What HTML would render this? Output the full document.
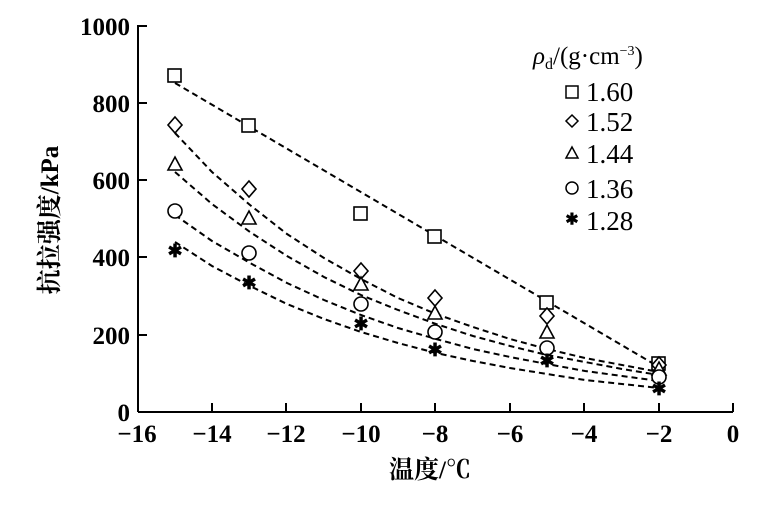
<!DOCTYPE html>
<html><head><meta charset="utf-8"><style>body{margin:0;background:#fff}svg{display:block}</style></head><body>
<svg width="768" height="505" viewBox="0 0 768 505" xmlns="http://www.w3.org/2000/svg" font-family="'Liberation Serif','Noto Serif CJK SC',serif">
<g stroke="#000" stroke-width="2" fill="none">
<line x1="138" y1="412" x2="733" y2="412"/>
<line x1="138" y1="25" x2="138" y2="412"/>
<line x1="138" y1="26" x2="147" y2="26"/>
<line x1="138" y1="103" x2="147" y2="103"/>
<line x1="138" y1="180" x2="147" y2="180"/>
<line x1="138" y1="257" x2="147" y2="257"/>
<line x1="138" y1="335" x2="147" y2="335"/>
<line x1="212" y1="412" x2="212" y2="403"/>
<line x1="286" y1="412" x2="286" y2="403"/>
<line x1="361" y1="412" x2="361" y2="403"/>
<line x1="435" y1="412" x2="435" y2="403"/>
<line x1="510" y1="412" x2="510" y2="403"/>
<line x1="584" y1="412" x2="584" y2="403"/>
<line x1="659" y1="412" x2="659" y2="403"/>
<line x1="733" y1="412" x2="733" y2="403"/>
</g>
<g font-size="25" font-weight="bold" text-anchor="end">
<text x="130" y="35">1000</text><text x="130" y="112">800</text><text x="130" y="189">600</text><text x="130" y="266">400</text><text x="130" y="344">200</text><text x="130" y="421">0</text>
</g>
<g font-size="25" font-weight="bold" text-anchor="middle">
<text x="137" y="442">−16</text><text x="212" y="442">−14</text><text x="286" y="442">−12</text><text x="361" y="442">−10</text><text x="435" y="442">−8</text><text x="510" y="442">−6</text><text x="584" y="442">−4</text><text x="659" y="442">−2</text><text x="733" y="442">0</text>
<text x="430" y="478">温度/℃</text>
<text transform="translate(58,220) rotate(-90)">抗拉强度/kPa</text>
</g>
<g stroke="#000" stroke-width="2" fill="none" stroke-dasharray="6,4">
<line x1="175" y1="83" x2="659" y2="367"/>
<path d="M175,133 L212,172 L250,205 L287,234 L324,258 L361,279 L398,298 L436,314 L473,327 L510,339 L547,349 L585,358 L622,365 L659,372"/>
<path d="M175,172 L212,204 L250,232 L287,256 L324,277 L361,295 L398,310 L436,324 L473,336 L510,346 L547,355 L585,362 L622,369 L659,375"/>
<path d="M175,215 L212,241 L250,263 L287,283 L324,300 L361,315 L398,328 L436,339 L473,349 L510,357 L547,364 L585,371 L622,376 L659,381"/>
<path d="M175,242 L212,266 L250,286 L287,304 L324,319 L361,332 L398,343 L436,353 L473,361 L510,368 L547,374 L585,380 L622,384 L659,388"/>
</g>
<g stroke="#000" stroke-width="1.6" fill="#fff">
<rect x="168" y="69" width="13" height="13"/><rect x="242" y="119" width="13" height="13"/><rect x="354" y="207" width="13" height="13"/><rect x="428" y="230" width="13" height="13"/><rect x="540" y="296" width="13" height="13"/><rect x="652" y="357" width="13" height="13"/>
<path d="M175,117l7,8l-7,8l-7,-8z"/><path d="M249,181l7,8l-7,8l-7,-8z"/><path d="M361,263l7,8l-7,8l-7,-8z"/><path d="M435,290l7,8l-7,8l-7,-8z"/><path d="M547,308l7,8l-7,8l-7,-8z"/><path d="M659,357l7,8l-7,8l-7,-8z"/>
<path d="M175,157l7,13h-14z"/><path d="M249,211l7,13h-14z"/><path d="M361,277l7,13h-14z"/><path d="M435,306l7,13h-14z"/><path d="M547,325l7,13h-14z"/><path d="M659,362l7,13h-14z"/>
<circle cx="175" cy="211" r="7"/><circle cx="249" cy="253" r="7"/><circle cx="361" cy="304" r="7"/><circle cx="435" cy="332" r="7"/><circle cx="547" cy="348" r="7"/><circle cx="659" cy="377" r="7"/>
</g>
<g font-size="18" font-weight="bold" text-anchor="middle" dominant-baseline="central">
<text x="175" y="251">✱</text><text x="249" y="283">✱</text><text x="361" y="324">✱</text><text x="435" y="350">✱</text><text x="547" y="361">✱</text><text x="659" y="389">✱</text>
</g>
<text x="533" y="64" font-size="25"><tspan font-style="italic">ρ</tspan><tspan font-size="16" dy="5">d</tspan><tspan dy="-5">/(g·cm</tspan><tspan font-size="14" dy="-9">−3</tspan><tspan dy="9">)</tspan></text>
<g stroke="#000" stroke-width="1.5" fill="#fff">
<rect x="566" y="86" width="12" height="12"/>
<path d="M572,115l6,6l-6,6l-6,-6z"/>
<path d="M572,147l6,11h-12z"/>
<circle cx="572" cy="188" r="6"/>
</g>
<text x="572" y="220" font-size="16" font-weight="bold" text-anchor="middle" dominant-baseline="central">✱</text>
<g font-size="27">
<text x="586" y="101">1.60</text><text x="586" y="131">1.52</text><text x="586" y="163">1.44</text><text x="586" y="198">1.36</text><text x="586" y="230">1.28</text>
</g>
</svg>
</body></html>
